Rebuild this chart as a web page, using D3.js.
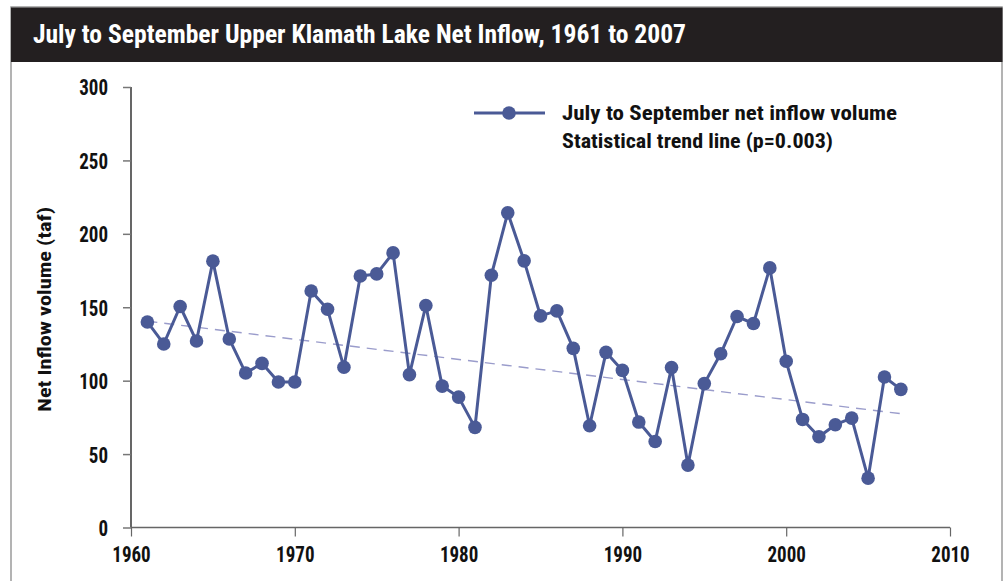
<!DOCTYPE html>
<html>
<head>
<meta charset="utf-8">
<script src="https://cdn.jsdelivr.net/npm/d3@7"></script>
<style>
  html, body { margin: 0; padding: 0; background: #fff; }
  svg { display: block; }
  text { font-family: "Liberation Sans Narrow", "Arial Narrow", "Roboto Condensed", "Liberation Sans", sans-serif; font-weight: bold; }
</style>
</head>
<body>
<svg id="chart" width="1006" height="581"></svg>
<script>
// ---- data ----
const titleText = "July to September Upper Klamath Lake Net Inflow, 1961 to 2007";
const yAxisTitle = "Net Inflow volume (taf)";
const years = [1961,1962,1963,1964,1965,1966,1967,1968,1969,1970,
               1971,1972,1973,1974,1975,1976,1977,1978,1979,1980,
               1981,1982,1983,1984,1985,1986,1987,1988,1989,1990,
               1991,1992,1993,1994,1995,1996,1997,1998,1999,2000,
               2001,2002,2003,2004,2005,2006,2007];
const inflow = [140,125,150.5,127,181.4,128.4,105.2,111.8,99.1,99.1,
                161.1,148.6,109.1,171.3,172.7,187,104.1,151.2,96.3,88.8,
                68.2,171.8,214.3,181.6,144.1,147.5,122,69.3,119.3,107,
                71.8,58.6,108.9,42.5,98,118.3,143.7,138.9,176.8,113.2,
                73.6,61.8,70,74.5,33.6,102.5,94.1];
const trendYears = [1961, 2007];
const trendValues = [140.5, 77.5];
const xTicks = [1960,1970,1980,1990,2000,2010];
const yTicks = [0,50,100,150,200,250,300];
const legendLabels = ["July to September net inflow volume", "Statistical trend line (p=0.003)"];

// ---- drawing ----
const svg = d3.select("#chart");
const seriesColor = "#4a5a96";
const trendColor = "#9a9ccb";
const digitW = 9.6;

// frame and title bar
svg.append("rect").attr("x", 11).attr("y", 7).attr("width", 991).attr("height", 600)
  .attr("fill", "#fff").attr("stroke", "#9a9a9a").attr("stroke-width", 1.5);
svg.append("rect").attr("x", 11).attr("y", 7.5).attr("width", 991.5).attr("height", 54.5)
  .attr("fill", "#231f20");
svg.append("text").attr("x", 33).attr("y", 43)
  .attr("fill", "#fff").attr("font-size", 25)
  .attr("textLength", 653).attr("lengthAdjust", "spacingAndGlyphs")
  .text(titleText);

const x = d3.scaleLinear().domain([1960, 2010]).range([131, 950]);
const y = d3.scaleLinear().domain([0, 300]).range([527.5, 87]);

// y axis
const yAxis = svg.append("g").attr("transform", "translate(131,0)")
  .call(d3.axisLeft(y).tickValues(yTicks).tickSize(8).tickPadding(15).tickFormat(d3.format("d")));
yAxis.select(".domain").attr("stroke", "#000").attr("stroke-width", 1.2).attr("d", `M0,${y(300)}V${y(0)}`);
yAxis.selectAll(".tick line").attr("stroke", "#777").attr("stroke-width", 1.5);
yAxis.selectAll(".tick text").attr("font-size", 22).attr("fill", "#111")
  .attr("font-family", "Roboto, Liberation Sans, sans-serif").attr("font-weight", "bold")
  .attr("dy", "0.36em")
  .attr("textLength", d => String(d).length * digitW).attr("lengthAdjust", "spacingAndGlyphs");

// x axis
const xAxis = svg.append("g").attr("transform", `translate(0,${y(0)})`)
  .call(d3.axisBottom(x).tickValues(xTicks).tickSize(9).tickPadding(10).tickFormat(d3.format("d")));
xAxis.select(".domain").attr("stroke", "#666").attr("stroke-width", 1.6).attr("d", `M${x(1960)},0H${x(2010)}`);
xAxis.selectAll(".tick line").attr("stroke", "#666").attr("stroke-width", 1.2);
xAxis.selectAll(".tick text").attr("font-size", 22).attr("fill", "#111")
  .attr("font-family", "Roboto, Liberation Sans, sans-serif").attr("font-weight", "bold")
  .attr("textLength", d => String(d).length * digitW).attr("lengthAdjust", "spacingAndGlyphs");

// y axis title
svg.append("text")
  .attr("transform", `translate(51,${(y(0)+y(300))/2 + 2}) rotate(-90)`)
  .attr("text-anchor", "middle").attr("font-size", 19).attr("fill", "#111")
  .attr("font-family", "Liberation Sans, Arial, sans-serif")
  .attr("textLength", 205).attr("lengthAdjust", "spacingAndGlyphs")
  .text(yAxisTitle);

// trend line
svg.append("line")
  .attr("x1", x(trendYears[0])).attr("y1", y(trendValues[0]))
  .attr("x2", x(trendYears[1])).attr("y2", y(trendValues[1]))
  .attr("stroke", trendColor).attr("stroke-width", 1.4).attr("stroke-dasharray", "10,7");

// series line
const pts = years.map((yr, i) => [yr, inflow[i]]);
svg.append("path").datum(pts)
  .attr("fill", "none").attr("stroke", seriesColor).attr("stroke-width", 3)
  .attr("stroke-linejoin", "round")
  .attr("d", d3.line().x(d => x(d[0])).y(d => y(d[1])));
svg.append("g").selectAll("circle").data(pts).join("circle")
  .attr("cx", d => x(d[0])).attr("cy", d => y(d[1])).attr("r", 6.8)
  .attr("fill", seriesColor);

// legend
const lg = svg.append("g");
lg.append("line").attr("x1", 474).attr("x2", 545).attr("y1", 113).attr("y2", 113)
  .attr("stroke", seriesColor).attr("stroke-width", 3);
lg.append("circle").attr("cx", 509).attr("cy", 113).attr("r", 6.8).attr("fill", seriesColor);
lg.selectAll("text.lab").data(legendLabels).join("text").attr("class", "lab")
  .attr("x", 562).attr("y", (d, i) => 120 + i * 28)
  .attr("font-size", 20).attr("fill", "#111")
  .attr("font-family", "Liberation Sans, Arial, sans-serif")
  .attr("textLength", (d, i) => i === 0 ? 335 : 271).attr("lengthAdjust", "spacingAndGlyphs")
  .text(d => d);
</script>
</body>
</html>
